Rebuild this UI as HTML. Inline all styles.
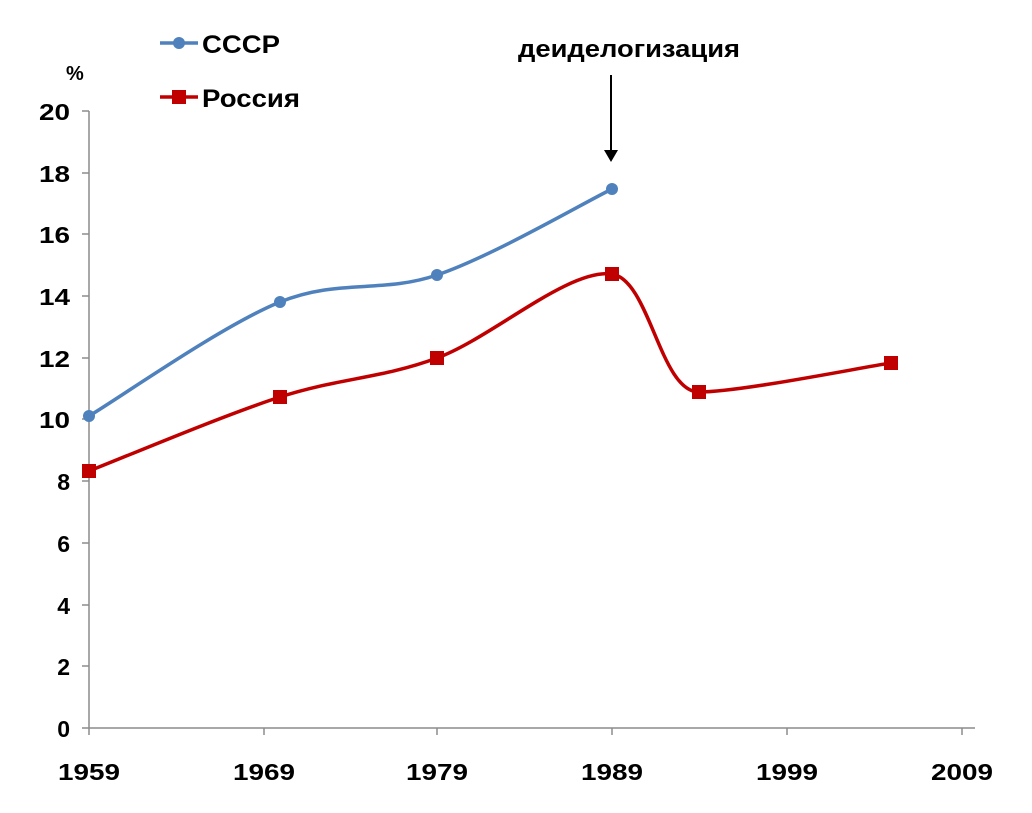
<!DOCTYPE html>
<html><head><meta charset="utf-8"><style>
html,body{margin:0;padding:0;background:#fff;}
svg{display:block;}
text{font-family:"Liberation Sans",Arial,sans-serif;font-weight:bold;fill:#000;}
</style></head><body>
<svg width="1032" height="813" viewBox="0 0 1032 813">
<g stroke="#8c8c8c" stroke-width="1.5" fill="none">
<line x1="89" y1="111" x2="89" y2="735"/>
<line x1="82" y1="728" x2="975" y2="728"/>
<line x1="82" y1="111" x2="89" y2="111"/>
<line x1="82" y1="173" x2="89" y2="173"/>
<line x1="82" y1="234" x2="89" y2="234"/>
<line x1="82" y1="296" x2="89" y2="296"/>
<line x1="82" y1="358" x2="89" y2="358"/>
<line x1="82" y1="419" x2="89" y2="419"/>
<line x1="82" y1="481" x2="89" y2="481"/>
<line x1="82" y1="543" x2="89" y2="543"/>
<line x1="82" y1="605" x2="89" y2="605"/>
<line x1="82" y1="666" x2="89" y2="666"/>
<line x1="264" y1="728" x2="264" y2="735"/>
<line x1="437" y1="728" x2="437" y2="735"/>
<line x1="612" y1="728" x2="612" y2="735"/>
<line x1="787" y1="728" x2="787" y2="735"/>
<line x1="962" y1="728" x2="962" y2="735"/>
</g>
<g font-size="23" text-anchor="end" lengthAdjust="spacingAndGlyphs">
<text x="70" y="120" textLength="31" lengthAdjust="spacingAndGlyphs">20</text><text x="70" y="182" textLength="31" lengthAdjust="spacingAndGlyphs">18</text><text x="70" y="243" textLength="31" lengthAdjust="spacingAndGlyphs">16</text>
<text x="70" y="305" textLength="31" lengthAdjust="spacingAndGlyphs">14</text><text x="70" y="367" textLength="31" lengthAdjust="spacingAndGlyphs">12</text><text x="70" y="428" textLength="31" lengthAdjust="spacingAndGlyphs">10</text>
<text x="70" y="490">8</text><text x="70" y="552">6</text><text x="70" y="614">4</text>
<text x="70" y="675">2</text><text x="70" y="737">0</text>
</g>
<g font-size="23">
<text x="58" y="780" textLength="62" lengthAdjust="spacingAndGlyphs">1959</text><text x="233" y="780" textLength="62" lengthAdjust="spacingAndGlyphs">1969</text><text x="406" y="780" textLength="62" lengthAdjust="spacingAndGlyphs">1979</text>
<text x="581" y="780" textLength="62" lengthAdjust="spacingAndGlyphs">1989</text><text x="756" y="780" textLength="62" lengthAdjust="spacingAndGlyphs">1999</text><text x="931" y="780" textLength="62" lengthAdjust="spacingAndGlyphs">2009</text>
</g>
<text x="66" y="80" font-size="20">%</text>
<text x="518" y="57" font-size="24" textLength="222" lengthAdjust="spacingAndGlyphs">деиделогизация</text>
<line x1="611" y1="75" x2="611" y2="152" stroke="#000" stroke-width="2"/>
<polygon points="604,150 618,150 611,162" fill="#000"/>
<path d="M89,416 C121,397 222,325.5 280,302 C338,278.5 381.7,293.8 437,275 C492.3,256.2 582.8,203.3 612,189" stroke="#4f81bd" stroke-width="3.5" fill="none"/>
<g fill="#4f81bd">
<circle cx="89" cy="416" r="6"/><circle cx="280" cy="302" r="6"/><circle cx="437" cy="275" r="6"/><circle cx="612" cy="189" r="6"/>
</g>
<path d="M89,471 C120.8,458.7 222,415.8 280,397 C338,378.2 381.7,378.5 437,358 C492.3,337.5 568.3,268.3 612,274 C650,280 660,392 699,392 C740,392 859,367.8 891,363" stroke="#c00000" stroke-width="3.5" fill="none"/>
<g fill="#c00000">
<rect x="82" y="464" width="14" height="14"/><rect x="273" y="390" width="14" height="14"/>
<rect x="430" y="351" width="14" height="14"/><rect x="605" y="267" width="14" height="14"/>
<rect x="692" y="385" width="14" height="14"/><rect x="884" y="356" width="14" height="14"/>
</g>
<line x1="160" y1="43" x2="198" y2="43" stroke="#4f81bd" stroke-width="3.5"/>
<circle cx="179" cy="43" r="6" fill="#4f81bd"/>
<text x="202" y="53" font-size="25" textLength="78" lengthAdjust="spacingAndGlyphs">СССР</text>
<line x1="160" y1="97" x2="198" y2="97" stroke="#c00000" stroke-width="3.5"/>
<rect x="172" y="90" width="14" height="14" fill="#c00000"/>
<text x="202" y="107" font-size="25" textLength="98" lengthAdjust="spacingAndGlyphs">Россия</text>
</svg>
</body></html>
